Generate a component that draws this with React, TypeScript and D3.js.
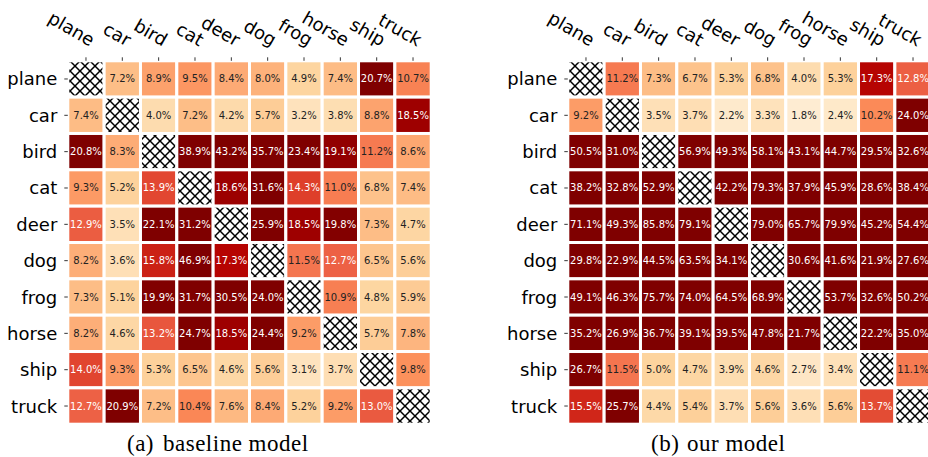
import { useEffect, useRef } from 'react';
import * as d3 from 'd3';

// class names, rows = true class, columns = predicted class
const classes = ['plane', 'car', 'bird', 'cat', 'deer', 'dog', 'frog', 'horse', 'ship', 'truck'];

// (a) baseline model, percentages (diagonal = null)
const baselineRates = [
  [null, 7.2, 8.9, 9.5, 8.4, 8.0, 4.9, 7.4, 20.7, 10.7],
  [7.4, null, 4.0, 7.2, 4.2, 5.7, 3.2, 3.8, 8.8, 18.5],
  [20.8, 8.3, null, 38.9, 43.2, 35.7, 23.4, 19.1, 11.2, 8.6],
  [9.3, 5.2, 13.9, null, 18.6, 31.6, 14.3, 11.0, 6.8, 7.4],
  [12.9, 3.5, 22.1, 31.2, null, 25.9, 18.5, 19.8, 7.3, 4.7],
  [8.2, 3.6, 15.8, 46.9, 17.3, null, 11.5, 12.7, 6.5, 5.6],
  [7.3, 5.1, 19.9, 31.7, 30.5, 24.0, null, 10.9, 4.8, 5.9],
  [8.2, 4.6, 13.2, 24.7, 18.5, 24.4, 9.2, null, 5.7, 7.8],
  [14.0, 9.3, 5.3, 6.5, 4.6, 5.6, 3.1, 3.7, null, 9.8],
  [12.7, 20.9, 7.2, 10.4, 7.6, 8.4, 5.2, 9.2, 13.0, null],
];

// (b) our model
const ourRates = [
  [null, 11.2, 7.3, 6.7, 5.3, 6.8, 4.0, 5.3, 17.3, 12.8],
  [9.2, null, 3.5, 3.7, 2.2, 3.3, 1.8, 2.4, 10.2, 24.0],
  [50.5, 31.0, null, 56.9, 49.3, 58.1, 43.1, 44.7, 29.5, 32.6],
  [38.2, 32.8, 52.9, null, 42.2, 79.3, 37.9, 45.9, 28.6, 38.4],
  [71.1, 49.3, 85.8, 79.1, null, 79.0, 65.7, 79.9, 45.2, 54.4],
  [29.8, 22.9, 44.5, 63.5, 34.1, null, 30.6, 41.6, 21.9, 27.6],
  [49.1, 46.3, 75.7, 74.0, 64.5, 68.9, null, 53.7, 32.6, 50.2],
  [35.2, 26.9, 36.7, 39.1, 39.5, 47.8, 21.7, null, 22.2, 35.0],
  [26.7, 11.5, 5.0, 4.7, 3.9, 4.6, 2.7, 3.4, null, 11.1],
  [15.5, 25.7, 4.4, 5.4, 3.7, 5.6, 3.6, 5.6, 13.7, null],
];

// matplotlib OrRd
const orRd = ['#fff7ec', '#fee8c8', '#fdd49e', '#fdbb84', '#fc8d59', '#ef6548', '#d7301f', '#b30000', '#7f0000'];
const colorMax = 20;

const panels = [
  { tag: '(a)', title: 'baseline model', rates: baselineRates, left: 67.8, tagX: 127, titleX: 163 },
  { tag: '(b)', title: 'our model', rates: ourRates, left: 567.8, tagX: 651, titleX: 687 },
];

export default function App() {
  const svgRef = useRef<SVGSVGElement>(null);

  useEffect(() => {
    if (!svgRef.current) return;
    const svg = d3.select(svgRef.current);
    svg.selectAll('*').remove();

    const width = 928;
    const height = 457;
    const size = 363.4;
    const top = 60.8;
    const sans = "'DejaVu Sans', sans-serif";

    svg.attr('width', width).attr('height', height);

    // crosshatch for the diagonal
    const pat = svg.append('defs').append('pattern')
      .attr('id', 'xhatch')
      .attr('patternUnits', 'userSpaceOnUse')
      .attr('width', 10).attr('height', 10)
      .attr('x', 0).attr('y', 1);
    pat.append('rect').attr('width', 10).attr('height', 10).attr('fill', 'white');
    pat.append('path')
      .attr('d', 'M-1,-1L11,11M11,-1L-1,11')
      .attr('stroke', 'black').attr('stroke-width', 1.5);

    const color = d3.scaleLinear<string>()
      .domain(orRd.map((_, i) => (i / (orRd.length - 1)) * colorMax))
      .range(orRd)
      .clamp(true);

    panels.forEach(p => {
      const x = d3.scaleBand().domain(classes).range([p.left, p.left + size]);
      const y = d3.scaleBand().domain(classes).range([top, top + size]);
      const bw = x.bandwidth();
      const g = svg.append('g');

      const cells = p.rates.flatMap((row, i) =>
        row.map((v, j) => ({ row: classes[i], col: classes[j], v })));

      g.selectAll('rect.cell').data(cells).join('rect')
        .attr('class', 'cell')
        .attr('x', d => x(d.col)!)
        .attr('y', d => y(d.row)!)
        .attr('width', bw)
        .attr('height', y.bandwidth())
        .attr('fill', d => d.v == null ? 'url(#xhatch)' : color(d.v))
        .attr('stroke', 'white')
        .attr('stroke-width', 3);

      g.selectAll('text.val').data(cells.filter(d => d.v != null)).join('text')
        .attr('class', 'val')
        .attr('x', d => x(d.col)! + bw / 2)
        .attr('y', d => y(d.row)! + y.bandwidth() / 2)
        .attr('text-anchor', 'middle')
        .attr('dominant-baseline', 'central')
        .attr('font-family', sans)
        .attr('font-size', 10)
        .attr('fill', d => (d.v as number) > 12 ? 'white' : '#222')
        .text(d => (d.v as number).toFixed(1) + '%');

      // top ticks + rotated labels
      classes.forEach(c => {
        const cx = x(c)! + bw / 2;
        g.append('line')
          .attr('x1', cx).attr('x2', cx)
          .attr('y1', top - 3.5).attr('y2', top)
          .attr('stroke', 'black').attr('stroke-width', 0.8);
        g.append('text')
          .attr('transform', `translate(${cx + 4},${top - 14}) rotate(30)`)
          .attr('text-anchor', 'end')
          .attr('font-family', sans)
          .attr('font-size', 18)
          .text(c);

        const cy = y(c)! + y.bandwidth() / 2;
        g.append('line')
          .attr('x1', p.left - 3.5).attr('x2', p.left)
          .attr('y1', cy).attr('y2', cy)
          .attr('stroke', 'black').attr('stroke-width', 0.8);
        g.append('text')
          .attr('x', p.left - 10.5)
          .attr('y', cy)
          .attr('text-anchor', 'end')
          .attr('dominant-baseline', 'central')
          .attr('font-family', sans)
          .attr('font-size', 18)
          .text(c);
      });

      // caption
      const cap = g.append('text')
        .attr('y', 451)
        .attr('font-family', "'Liberation Serif', 'Times New Roman', serif")
        .attr('font-size', 23)
        .attr('letter-spacing', 0.5);
      cap.append('tspan').attr('x', p.tagX).text(p.tag);
      cap.append('tspan').attr('x', p.titleX).text(p.title);
    });

    return () => { d3.select(svgRef.current).selectAll('*').remove(); };
  }, []);

  return <svg ref={svgRef} style={{ position: 'absolute', left: 0, top: 0, display: 'block' }}></svg>;
}
